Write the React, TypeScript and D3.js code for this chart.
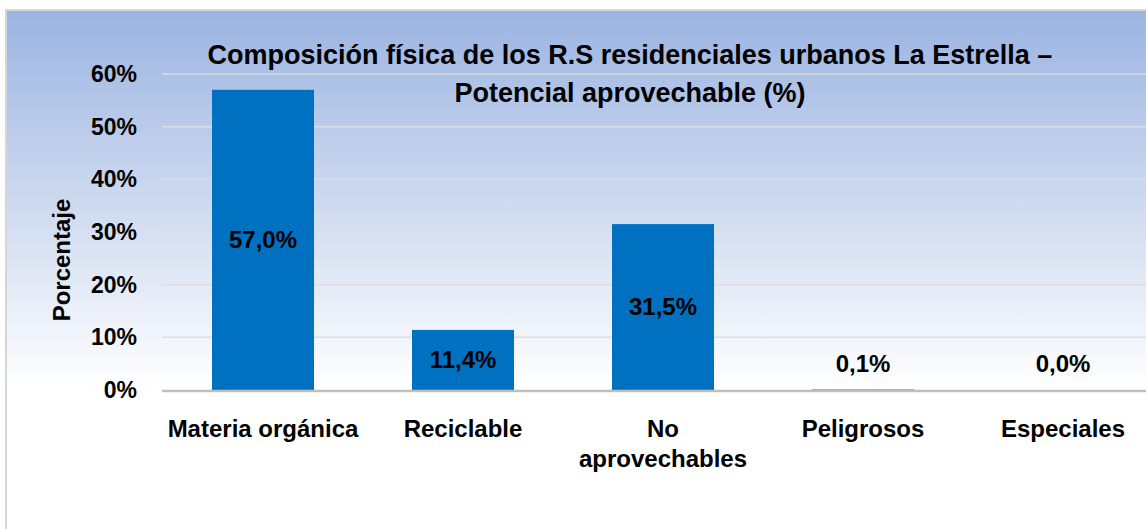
import React from "react";
import * as d3 from "d3";

const categories: string[][] = [
  ["Materia orgánica"],
  ["Reciclable"],
  ["No", "aprovechables"],
  ["Peligrosos"],
  ["Especiales"],
];
const values: number[] = [57.0, 11.4, 31.5, 0.1, 0.0];
const valueLabels: string[] = ["57,0%", "11,4%", "31,5%", "0,1%", "0,0%"];
const yTicks: number[] = [0, 10, 20, 30, 40, 50, 60];
const titleLines: string[] = [
  "Composición física de los R.S residenciales urbanos La Estrella –",
  "Potencial aprovechable (%)",
];
const yAxisTitle = "Porcentaje";

const W = 1146;
const H = 529;
const FONT = "'Liberation Sans', Arial, sans-serif";

export default function App() {
  const x = d3
    .scaleBand<number>()
    .domain(values.map((_, i) => i))
    .range([163, 1163])
    .paddingInner(0.49)
    .paddingOuter(0.245);
  const y = d3.scaleLinear().domain([0, 60]).range([390, 74]);
  const y0 = y(0);

  return (
    <div style={{ position: "absolute", left: 0, top: 0 }}>
      <svg width={W} height={H} style={{ display: "block" }}>
        <defs>
          <linearGradient id="bg" x1="0" y1="0" x2="0" y2="1">
            <stop offset="0" stopColor="#9bb4e2" />
            <stop offset="0.5" stopColor="#cdd9ef" />
            <stop offset="1" stopColor="#ffffff" />
          </linearGradient>
        </defs>
        <rect x={0} y={0} width={W} height={H} fill="#ffffff" />
        <rect x={6} y={10} width={W} height={y0 - 10} fill="url(#bg)" />
        <line x1={5} x2={W} y1={10} y2={10} stroke="#d6d6d6" strokeWidth={2} />
        <line x1={6} x2={6} y1={10} y2={H} stroke="#d6d6d6" strokeWidth={2} />
        {yTicks
          .filter((t) => t > 0)
          .map((t) => (
            <line
              key={t}
              x1={162}
              x2={W}
              y1={y(t)}
              y2={y(t)}
              stroke="#d9dde6"
              strokeWidth={1.5}
            />
          ))}
        {values.map((v, i) => (
          <rect
            key={i}
            x={x(i)}
            y={y(v)}
            width={x.bandwidth()}
            height={y0 - y(v)}
            fill="#0070c0"
          />
        ))}
        <line x1={162} x2={W} y1={y0 + 1} y2={y0 + 1} stroke="#bfbfbf" strokeWidth={2.5} />
        {yTicks.map((t) => (
          <text
            key={t}
            x={137}
            y={y(t)}
            dy="0.35em"
            textAnchor="end"
            fontFamily={FONT}
            fontWeight="bold"
            fontSize={23}
            fill="#000"
          >
            {t}%
          </text>
        ))}
        <text
          transform={`translate(70,260) rotate(-90)`}
          textAnchor="middle"
          fontFamily={FONT}
          fontWeight="bold"
          fontSize={24}
          fill="#000"
        >
          {yAxisTitle}
        </text>
        {values.map((v, i) => {
          const cx = (x(i) as number) + x.bandwidth() / 2;
          const mid = (y(v) + y0) / 2;
          const cy = Math.min(mid, y0 - 26);
          return (
            <text
              key={i}
              x={cx}
              y={cy}
              dy="0.35em"
              textAnchor="middle"
              fontFamily={FONT}
              fontWeight="bold"
              fontSize={24}
              fill="#000"
            >
              {valueLabels[i]}
            </text>
          );
        })}
        {categories.map((lines, i) => {
          const cx = (x(i) as number) + x.bandwidth() / 2;
          return (
            <text
              key={i}
              textAnchor="middle"
              fontFamily={FONT}
              fontWeight="bold"
              fontSize={24}
              fill="#000"
            >
              {lines.map((l, j) => (
                <tspan key={j} x={cx} y={437 + j * 30}>
                  {l}
                </tspan>
              ))}
            </text>
          );
        })}
        {titleLines.map((l, j) => (
          <text
            key={j}
            x={630}
            y={64 + j * 38}
            textAnchor="middle"
            fontFamily={FONT}
            fontWeight="bold"
            fontSize={27}
            fill="#000"
          >
            {l}
          </text>
        ))}
      </svg>
    </div>
  );
}
